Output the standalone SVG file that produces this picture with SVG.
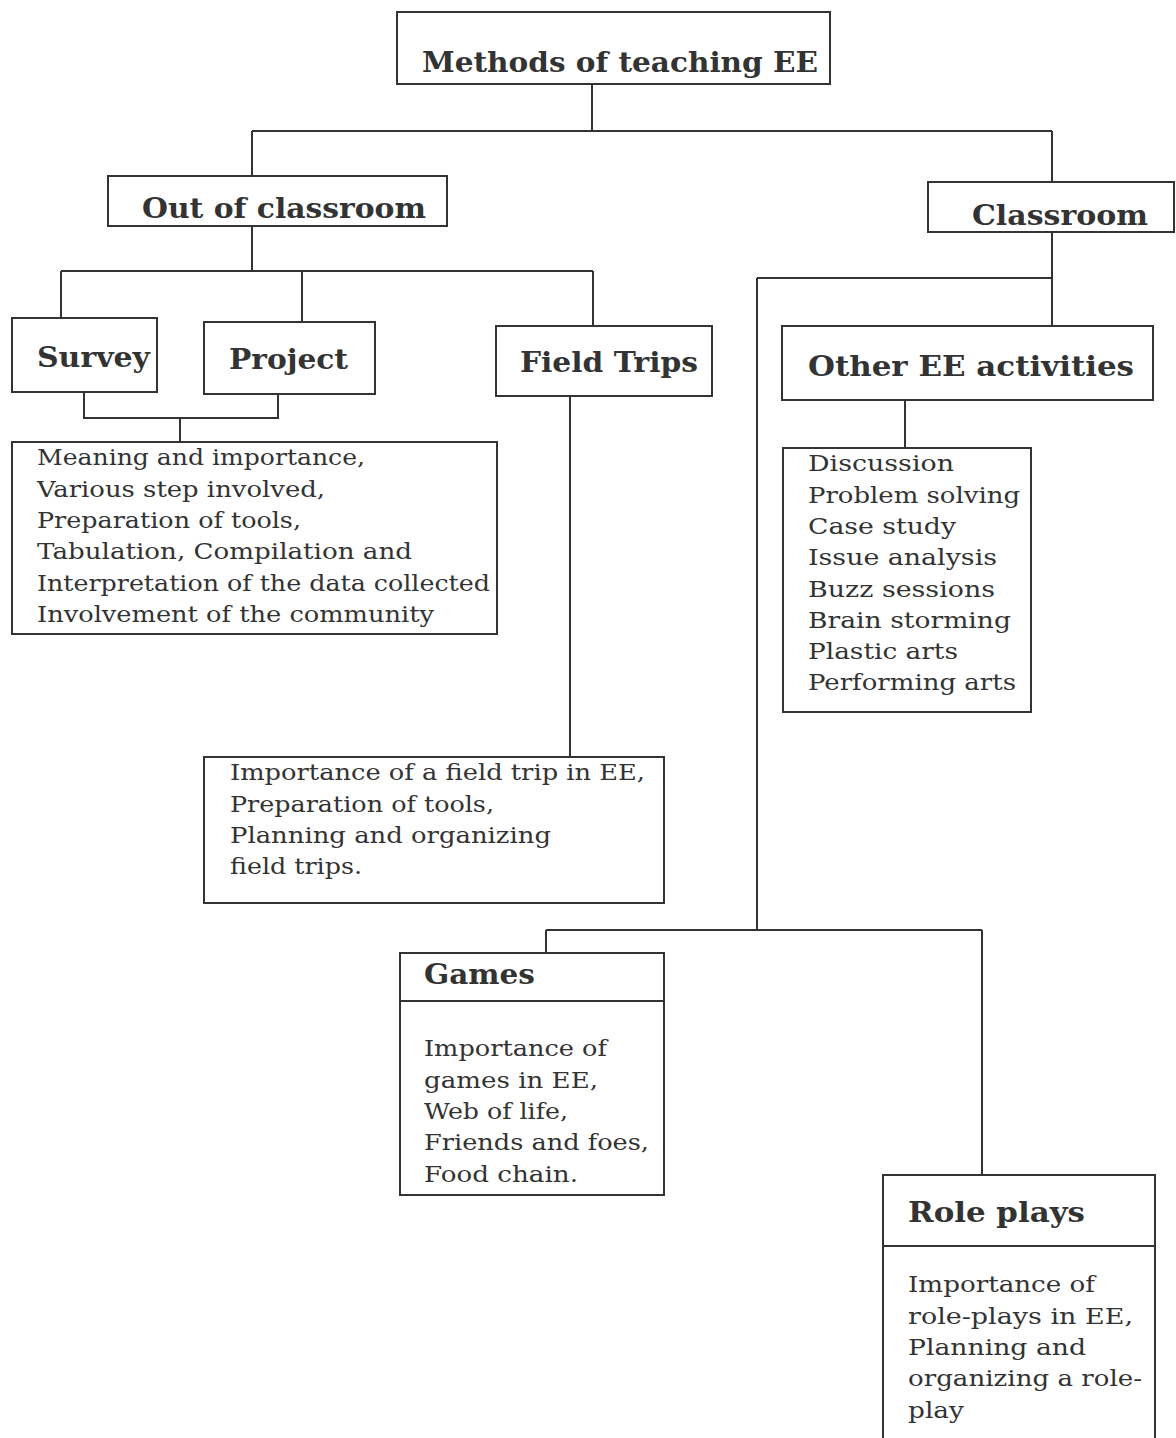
<svg xmlns="http://www.w3.org/2000/svg" width="1176" height="1438" viewBox="0 0 1176 1438">
<style>
.box{fill:#fff;stroke:#333;stroke-width:2}
.ln{fill:none;stroke:#333;stroke-width:2}
.h{font-family:"DejaVu Serif","Liberation Serif",serif;font-weight:bold;font-size:28px;fill:#333}
.b{font-family:"DejaVu Serif","Liberation Serif",serif;font-size:23px;fill:#333}
</style>
<rect width="1176" height="1438" fill="#fff"/>
<g id="connectors">
<path class="ln" d="M592,84 V131 M252,131 H1052 M252,131 V176 M1052,131 V182"/>
<path class="ln" d="M252,226 V271 M61,271 H593 M61,271 V318 M302,271 V322 M593,271 V326"/>
<path class="ln" d="M84,392 V418 H278 V394 M180,418 V442"/>
<path class="ln" d="M570,396 V757"/>
<path class="ln" d="M1052,232 V326 M757,278 H1052 M757,278 V930 M546,930 H982 M546,930 V953 M982,930 V1175"/>
<path class="ln" d="M905,400 V448"/>
</g>
<g id="root">
<rect class="box" x="397" y="12" width="433" height="72"/>
<text class="h" x="422" y="72" font-size="30" textLength="396" lengthAdjust="spacingAndGlyphs">Methods of teaching EE</text>
</g>
<g id="out">
<rect class="box" x="108" y="176" width="339" height="50"/>
<text class="h" x="142" y="218" textLength="284" lengthAdjust="spacingAndGlyphs">Out of classroom</text>
</g>
<g id="classroom">
<rect class="box" x="928" y="182" width="246" height="50"/>
<text class="h" x="972" y="225" textLength="176" lengthAdjust="spacingAndGlyphs">Classroom</text>
</g>
<g id="survey">
<rect class="box" x="12" y="318" width="145" height="74"/>
<text class="h" x="37" y="367" textLength="113" lengthAdjust="spacingAndGlyphs">Survey</text>
</g>
<g id="project">
<rect class="box" x="204" y="322" width="171" height="72"/>
<text class="h" x="229" y="369" textLength="119" lengthAdjust="spacingAndGlyphs">Project</text>
</g>
<g id="fieldtrips">
<rect class="box" x="496" y="326" width="216" height="70"/>
<text class="h" x="520" y="372" textLength="178" lengthAdjust="spacingAndGlyphs">Field Trips</text>
</g>
<g id="other">
<rect class="box" x="782" y="326" width="371" height="74"/>
<text class="h" x="808" y="376" textLength="326" lengthAdjust="spacingAndGlyphs">Other EE activities</text>
</g>
<g id="survey-details">
<rect class="box" x="12" y="442" width="485" height="192"/>
<text class="b" x="37" y="465" textLength="328" lengthAdjust="spacingAndGlyphs">Meaning and importance,</text>
<text class="b" x="37" y="497" textLength="288" lengthAdjust="spacingAndGlyphs">Various step involved,</text>
<text class="b" x="37" y="528" textLength="264" lengthAdjust="spacingAndGlyphs">Preparation of tools,</text>
<text class="b" x="37" y="559" textLength="375" lengthAdjust="spacingAndGlyphs">Tabulation, Compilation and</text>
<text class="b" x="37" y="591" textLength="453" lengthAdjust="spacingAndGlyphs">Interpretation of the data collected</text>
<text class="b" x="37" y="622" textLength="397" lengthAdjust="spacingAndGlyphs">Involvement of the community</text>
</g>
<g id="activities">
<rect class="box" x="783" y="448" width="248" height="264"/>
<text class="b" x="808" y="471" textLength="146" lengthAdjust="spacingAndGlyphs">Discussion</text>
<text class="b" x="808" y="503" textLength="212" lengthAdjust="spacingAndGlyphs">Problem solving</text>
<text class="b" x="808" y="534" textLength="148" lengthAdjust="spacingAndGlyphs">Case study</text>
<text class="b" x="808" y="565" textLength="189" lengthAdjust="spacingAndGlyphs">Issue analysis</text>
<text class="b" x="808" y="597" textLength="187" lengthAdjust="spacingAndGlyphs">Buzz sessions</text>
<text class="b" x="808" y="628" textLength="203" lengthAdjust="spacingAndGlyphs">Brain storming</text>
<text class="b" x="808" y="659" textLength="150" lengthAdjust="spacingAndGlyphs">Plastic arts</text>
<text class="b" x="808" y="690" textLength="208" lengthAdjust="spacingAndGlyphs">Performing arts</text>
</g>
<g id="fieldtrip-details">
<rect class="box" x="204" y="757" width="460" height="146"/>
<text class="b" x="230" y="780" textLength="415" lengthAdjust="spacingAndGlyphs">Importance of a field trip in EE,</text>
<text class="b" x="230" y="812" textLength="264" lengthAdjust="spacingAndGlyphs">Preparation of tools,</text>
<text class="b" x="230" y="843" textLength="321" lengthAdjust="spacingAndGlyphs">Planning and organizing</text>
<text class="b" x="230" y="874" textLength="132" lengthAdjust="spacingAndGlyphs">field trips.</text>
</g>
<g id="games">
<rect class="box" x="400" y="953" width="264" height="242"/>
<line class="ln" x1="400" y1="1001" x2="664" y2="1001"/>
<text class="h" x="424" y="984" textLength="111" lengthAdjust="spacingAndGlyphs">Games</text>
<text class="b" x="424" y="1056" textLength="183" lengthAdjust="spacingAndGlyphs">Importance of</text>
<text class="b" x="424" y="1088" textLength="174" lengthAdjust="spacingAndGlyphs">games in EE,</text>
<text class="b" x="424" y="1119" textLength="144" lengthAdjust="spacingAndGlyphs">Web of life,</text>
<text class="b" x="424" y="1150" textLength="225" lengthAdjust="spacingAndGlyphs">Friends and foes,</text>
<text class="b" x="424" y="1182" textLength="154" lengthAdjust="spacingAndGlyphs">Food chain.</text>
</g>
<g id="roleplays">
<rect class="box" x="883" y="1175" width="272" height="280"/>
<line class="ln" x1="883" y1="1246" x2="1155" y2="1246"/>
<text class="h" x="908" y="1222" textLength="177" lengthAdjust="spacingAndGlyphs">Role plays</text>
<text class="b" x="908" y="1292" textLength="187" lengthAdjust="spacingAndGlyphs">Importance of</text>
<text class="b" x="908" y="1324" textLength="225" lengthAdjust="spacingAndGlyphs">role-plays in EE,</text>
<text class="b" x="908" y="1355" textLength="178" lengthAdjust="spacingAndGlyphs">Planning and</text>
<text class="b" x="908" y="1386" textLength="234" lengthAdjust="spacingAndGlyphs">organizing a role-</text>
<text class="b" x="908" y="1418" textLength="56" lengthAdjust="spacingAndGlyphs">play</text>
</g>
</svg>
